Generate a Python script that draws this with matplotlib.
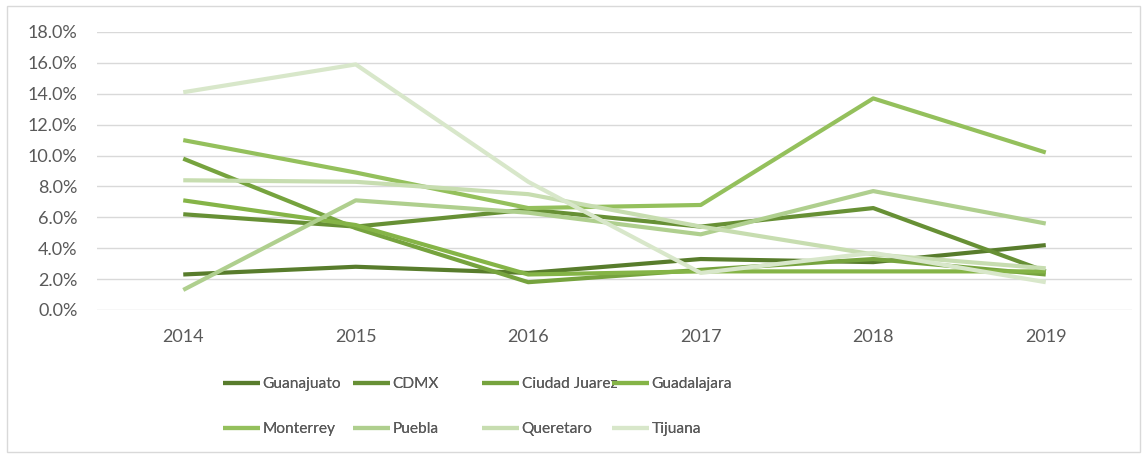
import matplotlib.pyplot as plt
from matplotlib.patches import Rectangle

plt.rcParams['font.family'] = ['Lato', 'DejaVu Sans']

years = ['2014', '2015', '2016', '2017', '2018', '2019']
guanajuato = [2.3, 2.8, 2.4, 3.3, 3.1, 4.2]
cdmx = [6.2, 5.4, 6.5, 5.4, 6.6, 2.5]
ciudad_juarez = [9.8, 5.3, 1.8, 2.6, 3.3, 2.3]
guadalajara = [7.1, 5.5, 2.3, 2.5, 2.5, 2.5]
monterrey = [11.0, 8.9, 6.6, 6.8, 13.7, 10.2]
puebla = [1.3, 7.1, 6.3, 4.9, 7.7, 5.6]
queretaro = [8.4, 8.3, 7.5, 5.4, 3.6, 2.7]
tijuana = [14.1, 15.9, 8.3, 2.4, 3.7, 1.8]

names = ['Guanajuato', 'CDMX', 'Ciudad Juarez', 'Guadalajara',
         'Monterrey', 'Puebla', 'Queretaro', 'Tijuana']
series = [guanajuato, cdmx, ciudad_juarez, guadalajara,
          monterrey, puebla, queretaro, tijuana]
colors = ['#587c2c', '#679035', '#76a33e', '#85b447',
          '#94c05c', '#afcf8e', '#c7ddb0', '#d8e7ca']

W, H = 1147, 455
fig = plt.figure(figsize=(W / 100, H / 100), dpi=100)
ax = fig.add_axes([97 / W, 1 - 310 / H, (1132 - 97) / W, (310 - 32) / H])

x = list(range(len(years)))
lines = []
for name, vals, c in zip(names, series, colors):
    ln, = ax.plot(x, vals, color=c, lw=3, label=name, solid_capstyle='butt')
    lines.append(ln)

ax.set_xlim(-0.5, len(years) - 0.5)
ax.set_ylim(0, 18)
ax.set_yticks(range(0, 19, 2))
ax.set_yticklabels([f'{v:.1f}%' for v in range(0, 19, 2)])
ax.set_xticks(x)
ax.set_xticklabels(years)
ax.grid(axis='y', color='#d9d9d9', lw=1)
ax.set_axisbelow(True)
for s in ax.spines.values():
    s.set_visible(False)
ax.tick_params(axis='y', length=0, pad=14, labelsize=13, labelcolor='#595959')
ax.tick_params(axis='x', length=0, pad=14, labelsize=13, labelcolor='#595959')

# legend: four columns placed like Excel's fixed grid
col_x = [223, 353, 482, 612]
for i, cx in enumerate(col_x):
    leg = fig.legend([lines[i], lines[i + 4]], [names[i], names[i + 4]],
                     loc='upper left', bbox_to_anchor=(cx / W, 1 - 377 / H),
                     frameon=False, fontsize=11.2, handlelength=2.4,
                     handletextpad=0.15, labelspacing=2.0,
                     borderaxespad=0, borderpad=0)
    for t in leg.get_texts():
        t.set_color('#595959')
    fig.add_artist(leg)

fig.add_artist(Rectangle((7 / W, 1 - 452 / H), (1140 - 7) / W, (452 - 6) / H,
                         transform=fig.transFigure, fill=False,
                         edgecolor='#d9d9d9', lw=1))

fig.savefig('out.png', dpi=100)
